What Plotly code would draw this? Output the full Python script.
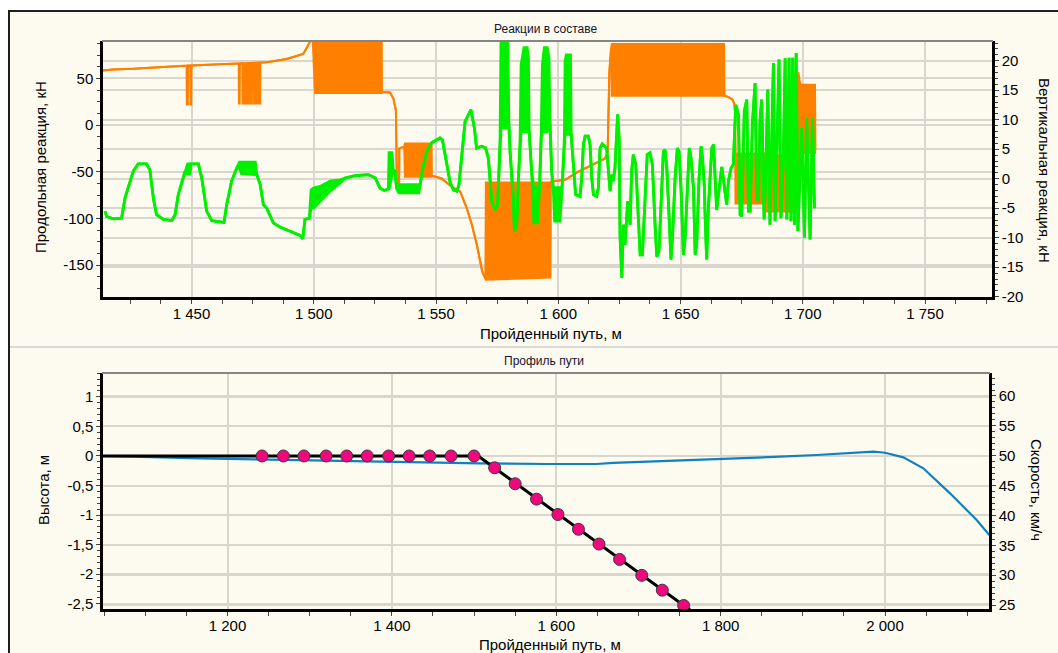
import plotly.graph_objects as go

W, H = 1058, 653

# ---------------- top chart data: "Реакции в составе" ----------------
# longitudinal reaction (left axis, kN): envelope lo/hi (dense oscillation -> filled band)
orange_x = [1413.8, 1417.8, 1426.2, 1434.4, 1448.0, 1448.1, 1448.5, 1448.6, 1449.5, 1449.6,
            1449.9, 1450.0, 1458.9, 1469.3, 1469.4, 1469.7, 1469.8, 1470.8, 1470.9, 1472.9,
            1473.0, 1473.6, 1473.7, 1474.7, 1474.8, 1475.5, 1475.6, 1478.1, 1478.2, 1480.8,
            1488.9, 1495.7, 1498.5, 1499.5, 1500.5, 1527.8, 1527.9, 1531.2, 1532.6, 1533.6,
            1534.0, 1534.9, 1535.0, 1537.0, 1537.3, 1548.2, 1548.3, 1552.3, 1556.4, 1559.9,
            1562.6, 1564.7, 1566.7, 1568.9, 1570.2, 1570.4, 1596.8, 1597.0, 1602.8, 1608.2,
            1613.7, 1619.1, 1620.2, 1620.9, 1621.6, 1621.9, 1667.8, 1668.0, 1669.6, 1671.2,
            1672.0, 1672.3, 1672.5, 1684.6, 1685.3, 1698.0, 1698.2, 1698.8, 1699.3, 1705.0,
            1705.2]
orange_lo = [58.5, 59.6, 60.4, 61.8, 63.9, 22.2, 22.2, 63.9, 64.0, 22.2,
             22.2, 64.0, 65.0, 66.0, 23.3, 23.3, 66.1, 66.2, 23.3, 23.3,
             66.4, 66.5, 23.3, 23.3, 66.6, 66.7, 23.3, 23.3, 67.0, 67.5,
             71.0, 76.4, 89.5, 96.0, 34.4, 34.4, 35.5, 35.0, 28.3, 15.8,
             -62.5, -62.5, -25.0, -23.0, -55.3, -55.3, -54.3, -57.2, -66.0, -71.4,
             -89.2, -107.0, -128.4, -156.8, -164.7, -165.8, -163.3, -60.7, -58.7, -50.0,
             -43.0, -35.8, -28.6, 56.8, 81.7, 31.5, 31.8, 31.5, 30.1, 27.6,
             23.0, 14.1, -84.0, -84.0, -92.7, -92.7, -34.0, -30.0, -30.0, -30.0,
             -25.0]
orange_hi = [58.5, 59.6, 60.4, 61.8, 63.9, 63.9, 63.9, 63.9, 64.0, 64.0,
             64.0, 64.0, 65.0, 66.0, 66.0, 66.0, 66.1, 66.2, 66.2, 66.4,
             66.4, 66.5, 66.5, 66.6, 66.6, 66.7, 66.7, 67.0, 67.0, 67.5,
             71.0, 76.4, 89.5, 96.0, 96.0, 96.0, 35.5, 35.0, 28.3, 15.8,
             -62.5, -62.5, -25.0, -23.0, -19.8, -19.8, -54.3, -57.2, -66.0, -71.4,
             -89.2, -107.0, -128.4, -156.8, -164.7, -61.4, -61.4, -60.7, -58.7, -50.0,
             -43.0, -35.8, -28.6, 56.8, 81.7, 87.0, 87.0, 31.5, 30.1, 27.6,
             23.0, 14.1, -30.4, -30.4, -32.0, -34.0, 56.8, 46.2, 43.3, 43.3,
             -25.0]

# vertical reaction (right axis, kN): envelope lo/hi
green_x = [1414.6, 1415.3, 1418.0, 1421.4, 1422.8, 1424.8, 1426.2, 1428.2, 1431.6, 1433.0,
           1434.4, 1435.7, 1438.5, 1441.9, 1443.3, 1444.6, 1447.3, 1448.4, 1449.4, 1449.8,
           1452.8, 1454.2, 1456.2, 1458.3, 1463.3, 1464.4, 1466.4, 1468.5, 1469.6, 1470.5,
           1476.1, 1476.7, 1478.1, 1479.4, 1480.8, 1483.5, 1486.2, 1494.4, 1495.5, 1496.4,
           1498.2, 1498.9, 1499.9, 1502.6, 1506.7, 1510.8, 1512.8, 1516.9, 1522.3, 1525.2,
           1527.1, 1528.9, 1530.5, 1530.8, 1532.0, 1532.5, 1533.2, 1533.9, 1534.6, 1535.0,
           1543.0, 1543.5, 1544.4, 1546.2, 1548.2, 1551.6, 1552.6, 1554.0, 1555.7, 1557.1,
           1558.5, 1559.4, 1560.5, 1561.9, 1564.3, 1565.7, 1566.6, 1568.7, 1570.3, 1571.4,
           1572.8, 1574.1, 1575.2, 1576.2, 1576.6, 1579.4, 1579.8, 1580.3, 1581.6, 1582.1,
           1583.0, 1583.7, 1584.4, 1584.8, 1586.0, 1587.3, 1587.8, 1588.1, 1589.1, 1590.0,
           1591.5, 1592.3, 1593.0, 1593.5, 1594.3, 1595.5, 1596.2, 1596.6, 1597.3, 1598.0,
           1598.5, 1600.7, 1601.4, 1602.5, 1602.8, 1603.3, 1605.0, 1605.3, 1605.8, 1606.6,
           1607.1, 1608.9, 1609.6, 1610.3, 1611.0, 1612.3, 1613.0, 1613.7, 1614.4, 1615.7,
           1616.4, 1617.1, 1618.0, 1619.8, 1620.5, 1621.2, 1621.9, 1622.5, 1623.2, 1623.9,
           1624.3, 1624.9, 1625.3, 1626.0, 1626.6, 1627.3, 1628.4, 1629.4, 1630.0, 1630.7,
           1631.7, 1632.5, 1633.5, 1634.4, 1635.5, 1636.4, 1637.5, 1638.5, 1639.6, 1640.3,
           1641.2, 1642.3, 1643.0, 1643.7, 1644.4, 1645.3, 1646.1, 1646.7, 1647.8, 1648.7,
           1649.4, 1650.2, 1651.2, 1651.9, 1653.0, 1653.6, 1654.3, 1655.3, 1656.0, 1656.6,
           1657.6, 1658.4, 1659.0, 1659.8, 1660.0, 1660.7, 1661.4, 1662.1, 1662.8, 1663.5,
           1664.1, 1664.8, 1665.5, 1666.2, 1666.9, 1667.5, 1668.9, 1669.6, 1670.7, 1671.6,
           1672.6, 1673.7, 1674.4, 1675.0, 1676.1, 1677.1, 1677.8, 1678.5, 1679.4, 1680.5,
           1681.2, 1681.9, 1682.5, 1683.2, 1684.2, 1684.9, 1685.7, 1686.6, 1687.3, 1688.0,
           1688.7, 1689.4, 1690.3, 1691.1, 1692.1, 1692.8, 1693.5, 1694.4, 1695.2, 1695.9,
           1696.6, 1697.3, 1698.0, 1699.6, 1700.7, 1701.6, 1703.0, 1704.0, 1704.8]
green_lo = [-5.5, -6.4, -6.8, -6.7, -3.3, -0.4, 1.3, 2.5, 2.5, 1.5,
            -3.3, -6.1, -6.9, -7.1, -6.1, -2.7, 1.3, 0.8, 0.8, 2.5,
            2.5, 0.1, -5.5, -7.1, -7.4, -4.4, -0.4, 1.8, 1.8, 0.8,
            0.8, 0.7, -1.0, -4.4, -5.0, -7.5, -8.2, -9.6, -10.2, -6.9,
            -6.7, -5.0, -5.0, -3.8, -2.1, -0.7, 0.1, 0.5, 0.7, 0.1,
            -1.6, -2.0, -1.7, -1.7, 0.5, 1.5, 1.3, -1.6, -2.3, -2.4,
            -2.4, -1.0, 1.3, 4.6, 6.1, 6.9, 6.6, 3.5, -0.5, -1.9,
            -2.1, -1.0, 4.1, 9.7, 11.7, 8.6, 5.2, 5.5, 5.2, 3.5,
            -3.8, -5.3, -4.4, 6.9, 8.6, 8.6, 9.2, 4.6, -3.3, -8.9,
            -7.8, 0.1, 6.9, 8.0, 8.0, 8.0, 8.0, 8.0, 1.3, -7.5,
            -7.5, -2.1, 6.9, 8.0, 8.0, 8.0, 9.7, 9.7, 1.3, -2.1,
            -7.2, -7.2, -2.7, 6.9, 7.5, 7.5, 7.5, 7.5, 4.6, -1.0,
            -2.7, -3.0, 0.1, 5.8, 7.2, 7.2, 5.8, 0.1, -2.7, -3.0,
            -1.6, 5.2, 5.9, 5.2, 1.3, -2.1, 0.7, -0.4, 1.8, 6.9,
            10.9, 6.9, -10.0, -16.8, -7.8, -11.2, -3.8, -7.8, 1.3, 4.1,
            2.4, -4.4, -12.9, -12.9, -4.4, 4.1, 4.4, 2.4, -7.8, -13.2,
            -12.3, -1.6, 4.6, 4.9, 1.8, -6.1, -13.7, -10.0, 0.1, 5.2,
            4.6, -1.6, -12.9, -10.0, 1.3, 5.2, 3.5, -1.6, -12.9, -11.2,
            0.1, 5.5, 3.5, -1.6, -5.5, -13.7, -5.0, 1.3, 5.2, 5.8,
            1.3, -5.3, -2.7, 0.1, 2.0, 0.1, -4.4, -0.4, 1.8, 2.4,
            12.5, 10.8, -6.1, -6.4, 11.4, 13.4, -5.5, -5.5, 9.2, 16.2,
            -3.3, -3.8, 9.7, 13.4, -6.9, 1.3, 15.1, -7.8, 4.1, 19.6,
            -7.2, 4.1, 20.2, -6.7, 4.1, 20.4, -6.9, 20.5, -7.2, 20.5,
            -7.8, 21.3, -8.9, 8.6, -10.0, 10.3, -10.3, 10.3, -5.0]
green_hi = [-5.5, -6.4, -6.8, -6.7, -3.3, -0.4, 1.3, 2.5, 2.5, 1.5,
            -3.3, -6.1, -6.9, -7.1, -6.1, -2.7, 1.3, 2.5, 2.5, 2.5,
            2.5, 0.1, -5.5, -7.1, -7.4, -4.4, -0.4, 1.8, 2.8, 2.8,
            2.8, 0.7, -1.0, -4.4, -5.0, -7.5, -8.2, -9.6, -10.2, -6.9,
            -6.7, -1.9, -1.6, -1.3, -0.4, -0.2, 0.1, 0.5, 0.7, 0.1,
            -1.6, -2.0, -1.7, 4.4, 4.4, 1.5, 1.3, -1.6, -1.6, -1.0,
            -1.0, -1.0, 1.3, 4.6, 6.1, 6.9, 6.6, 3.5, -0.5, -1.9,
            -2.1, -1.0, 4.1, 9.7, 11.7, 8.6, 5.2, 5.5, 5.2, 3.5,
            -3.8, -5.3, -4.4, 6.9, 24.0, 24.0, 9.2, 4.6, -3.3, -8.9,
            -7.8, 0.1, 6.9, 19.3, 22.2, 22.2, 20.5, 8.0, 1.3, -1.5,
            -1.5, -2.1, 6.9, 19.3, 22.2, 22.2, 20.5, 9.7, 1.3, -1.5,
            -1.5, -1.5, -2.7, 6.9, 20.0, 21.0, 21.0, 7.5, 4.6, -1.0,
            -2.7, -3.0, 0.1, 5.8, 7.2, 7.2, 5.8, 0.1, -2.7, -3.0,
            -1.6, 5.2, 5.9, 5.2, 1.3, -2.1, 0.7, -0.4, 1.8, 6.9,
            10.9, 6.9, -10.0, -16.8, -7.8, -11.2, -3.8, -7.8, 1.3, 4.1,
            2.4, -4.4, -12.9, -12.9, -4.4, 4.1, 4.4, 2.4, -7.8, -13.2,
            -12.3, -1.6, 4.6, 4.9, 1.8, -6.1, -13.7, -10.0, 0.1, 5.2,
            4.6, -1.6, -12.9, -10.0, 1.3, 5.2, 3.5, -1.6, -12.9, -11.2,
            0.1, 5.5, 3.5, -1.6, -5.5, -13.7, -5.0, 1.3, 5.2, 5.8,
            1.3, -5.3, -2.7, 0.1, 2.0, 0.1, -4.4, -0.4, 1.8, 2.4,
            12.5, 10.8, -6.1, -6.4, 11.4, 13.4, -5.5, -5.5, 9.2, 16.2,
            -3.3, -3.8, 9.7, 13.4, -6.9, 1.3, 15.1, -7.8, 4.1, 19.6,
            -7.2, 4.1, 20.2, -6.7, 4.1, 20.4, -6.9, 20.5, -7.2, 20.5,
            -7.8, 21.3, -8.9, 8.6, -10.0, 10.3, -10.3, 10.3, -5.0]

top_x_ticks = [1450, 1500, 1550, 1600, 1650, 1700, 1750]
top_x_labels = ['1 450', '1 500', '1 550', '1 600', '1 650', '1 700', '1 750']
long_ticks = [-150, -100, -50, 0, 50]
long_labels = ['-150', '-100', '-50', '0', '50']
vert_ticks = [-20, -15, -10, -5, 0, 5, 10, 15, 20]
vert_labels = ['-20', '-15', '-10', '-5', '0', '5', '10', '15', '20']

# ---------------- bottom chart data: "Профиль пути" ----------------
speed_x = [1048.5, 1099.6, 1166.5, 1233.5, 1300.4, 1369.4, 1438.3, 1507.3, 1588.4, 1649.2,
           1669.5, 1718.2, 1758.7, 1803.2, 1872.2, 1916.9, 1950.0, 1985.8, 2000.0, 2022.3,
           2046.6, 2079.1, 2111.5, 2126.9]
speed_v = [49.95, 49.75, 49.57, 49.4, 49.23, 49.0, 48.83, 48.73, 48.61, 48.61,
           48.8, 49.06, 49.15, 49.5, 49.83, 50.12, 50.4, 50.67, 50.5, 49.73,
           47.89, 43.7, 39.23, 36.72]
profile_x = [1040.0, 1505.0, 1770.0]
profile_h = [0.0, 0.0, -2.68]
picket_x = [1242, 1268, 1293, 1320, 1345, 1370, 1396, 1421, 1446, 1472, 1500,
            1525, 1550, 1576, 1602, 1627, 1652, 1677, 1704, 1729, 1755]
picket_h = [0, 0, 0, 0, 0, 0, 0, 0, 0, 0, 0,
            -0.2, -0.47, -0.73, -0.99, -1.24, -1.49, -1.75, -2.02, -2.27, -2.53]

bot_x_ticks = [1200, 1400, 1600, 1800, 2000]
bot_x_labels = ['1 200', '1 400', '1 600', '1 800', '2 000']
height_ticks = [-2.5, -2, -1.5, -1, -0.5, 0, 0.5, 1]
height_labels = ['-2,5', '-2', '-1,5', '-1', '-0,5', '0', '0,5', '1']
speed_ticks = [25, 30, 35, 40, 45, 50, 55, 60]
speed_labels = ['25', '30', '35', '40', '45', '50', '55', '60']

# ---------------- styling ----------------
CREAM = '#fdfaef'
GRID = '#d9d6cd'
ORANGE = '#ff8000'
GREEN = '#00f000'
BLUE = '#1080c0'
PINK = '#f0077d'
FONT = 'Liberation Sans, Arial, sans-serif'


def px_x(p):
    return p / W


def px_y(p):
    return 1 - p / H


fig = go.Figure()

# orange envelope
fig.add_trace(go.Scatter(x=orange_x, y=orange_lo, mode='lines', xaxis='x', yaxis='y',
                         line=dict(color=ORANGE, width=2), hoverinfo='skip'))
fig.add_trace(go.Scatter(x=orange_x, y=orange_hi, mode='lines', xaxis='x', yaxis='y',
                         line=dict(color=ORANGE, width=2), fill='tonexty', fillcolor=ORANGE,
                         hoverinfo='skip'))
# green envelope
fig.add_trace(go.Scatter(x=green_x, y=green_lo, mode='lines', xaxis='x', yaxis='y2',
                         line=dict(color=GREEN, width=2.8), hoverinfo='skip'))
fig.add_trace(go.Scatter(x=green_x, y=green_hi, mode='lines', xaxis='x', yaxis='y2',
                         line=dict(color=GREEN, width=2.8), fill='tonexty', fillcolor=GREEN,
                         hoverinfo='skip'))

# bottom chart
fig.add_trace(go.Scatter(x=speed_x, y=speed_v, mode='lines', xaxis='x2', yaxis='y3',
                         line=dict(color=BLUE, width=2.2)))
fig.add_trace(go.Scatter(x=profile_x, y=profile_h, mode='lines', xaxis='x2', yaxis='y4',
                         line=dict(color='black', width=3)))
fig.add_trace(go.Scatter(x=picket_x, y=picket_h, mode='markers', xaxis='x2', yaxis='y4',
                         cliponaxis=False,
                         marker=dict(symbol='circle', size=12, color=PINK,
                                     line=dict(color='#3a3a3a', width=1))))


def xaxis_common(ticks, labels, rng, dom, anchor, minor_dt):
    return dict(domain=dom, anchor=anchor, range=rng, tickmode='array', tickvals=ticks,
                ticktext=labels, showgrid=True, gridcolor=GRID, gridwidth=2, zeroline=False,
                showline=True, linecolor='black', linewidth=2.5, ticks='outside', ticklen=4,
                tickcolor='#444', tickwidth=1, tickfont=dict(size=15, color='black', family=FONT),
                ticklabelstandoff=-3,
                minor=dict(tickmode='linear', tick0=0, dtick=minor_dt, ticks='outside',
                           ticklen=4, tickcolor='#444', tickwidth=1, showgrid=False),
                automargin=False, fixedrange=True)


def yaxis_common(ticks, labels, rng, minor_dt, side):
    return dict(range=rng, tickmode='array', tickvals=ticks, ticktext=labels, side=side,
                showgrid=True, gridcolor=GRID, gridwidth=2, zeroline=False, showline=True,
                linecolor='black', linewidth=2.5, ticks='outside', ticklen=4, tickcolor='#444',
                tickwidth=1, tickfont=dict(size=15, color='black', family=FONT),
                minor=dict(tickmode='linear', tick0=0, dtick=minor_dt, ticks='outside',
                           ticklen=3, tickcolor='#444', tickwidth=1, showgrid=False),
                automargin=False, fixedrange=True)


top_dom_y = [px_y(297), px_y(41)]
bot_dom_y = [px_y(609), px_y(373)]

ya = yaxis_common(long_ticks, long_labels, [-184.3, 90.2], 12.5, 'left')
ya.update(domain=top_dom_y, anchor='x')
ya2 = yaxis_common(vert_ticks, vert_labels, [-20.05, 23.34], 1, 'right')
ya2.update(overlaying='y', anchor='x')
ya3 = yaxis_common(speed_ticks, speed_labels, [24.33, 63.85], 1, 'right')
ya3.update(domain=bot_dom_y, anchor='x2')
ya4 = yaxis_common(height_ticks, height_labels, [-2.589, 1.404], 0.1, 'left')
ya4.update(overlaying='y3', anchor='x2')

fig.update_layout(
    template='none',
    width=W, height=H,
    margin=dict(l=0, r=0, t=0, b=0, pad=0),
    paper_bgcolor='white',
    plot_bgcolor=CREAM,
    showlegend=False,
    font=dict(family=FONT, size=15, color='black'),
    xaxis=xaxis_common(top_x_ticks, top_x_labels, [1413.8, 1777.4],
                       [px_x(103), px_x(992)], 'y', 12.5),
    xaxis2=xaxis_common(bot_x_ticks, bot_x_labels, [1048.5, 2126.5],
                        [px_x(103), px_x(989)], 'y3', 50),
    yaxis=ya, yaxis2=ya2, yaxis3=ya3, yaxis4=ya4,
)

shapes = [
    # outer frame
    dict(type='rect', xref='paper', yref='paper', x0=px_x(9), y0=px_y(11), x1=1.05, y1=-0.05,
         fillcolor=CREAM, line=dict(color='#1e1e1e', width=2), layer='below'),
    # separator between the panels
    dict(type='line', xref='paper', yref='paper', x0=px_x(10), x1=1.0, y0=px_y(347), y1=px_y(347),
         line=dict(color='#cfcfcf', width=1.5)),
    # grey top borders of the plot areas
    dict(type='line', xref='paper', yref='paper', x0=px_x(102), x1=px_x(993), y0=px_y(41), y1=px_y(41),
         line=dict(color='#858585', width=2)),
    dict(type='line', xref='paper', yref='paper', x0=px_x(102), x1=px_x(990), y0=px_y(373), y1=px_y(373),
         line=dict(color='#858585', width=2)),
]
fig.update_layout(shapes=shapes)


def ann(text, x, y, size=15, angle=0, color='black'):
    return dict(text=text, xref='paper', yref='paper', x=px_x(x), y=px_y(y), xanchor='center',
                yanchor='middle', showarrow=False, textangle=angle,
                font=dict(family=FONT, size=size, color=color))


fig.update_layout(annotations=[
    ann('Реакции в составе', 545, 29, size=12, color='#141432'),
    ann('Профиль пути', 544, 361, size=12, color='#141432'),
    ann('Продольная реакция, кН', 40, 167, angle=-90),
    ann('Вертикальная реакция, кН', 1044, 170, angle=90),
    ann('Пройденный путь, м', 551, 333),
    ann('Высота, м', 43, 490, angle=-90),
    ann('Скорость, км/ч', 1037, 490, angle=90),
    ann('Пройденный путь, м', 550, 644),
])

fig.write_html('out.html')
